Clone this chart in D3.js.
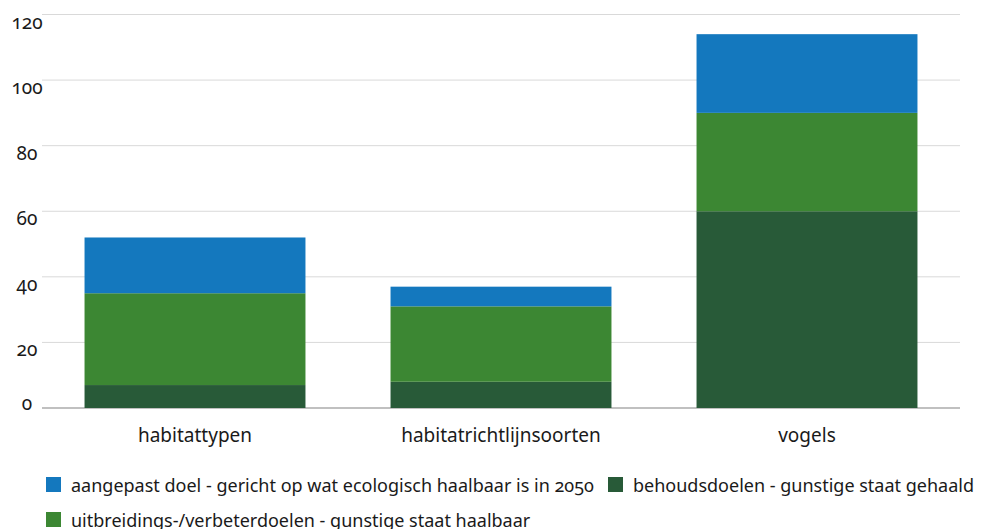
<!DOCTYPE html>
<html>
<head>
<meta charset="utf-8">
<script src="https://cdn.jsdelivr.net/npm/d3@7"></script>
<style>
  body { margin: 0; background: #fff; }
  svg text { font-family: "Noto Sans", sans-serif; font-variant-numeric: oldstyle-nums; fill: #1a1a1a; }
</style>
</head>
<body>
<svg id="chart" width="984" height="529"></svg>
<script>
// data
const categories = ["habitattypen", "habitatrichtlijnsoorten", "vogels"];
const behoud = [7, 8, 60];
const uitbreiding = [28, 23, 30];
const aangepast = [17, 6, 24];
const yTicks = [0, 20, 40, 60, 80, 100, 120];

const seriesNames = [
    "behoudsdoelen - gunstige staat gehaald",
    "uitbreidings-/verbeterdoelen - gunstige staat haalbaar",
    "aangepast doel - gericht op wat ecologisch haalbaar is in 2050"
];
const colors = ["#285a38", "#3c8733", "#1478be"];

const rows = categories.map((c, i) => ({
    cat: c, s0: behoud[i], s1: uitbreiding[i], s2: aangepast[i]
}));

const svg = d3.select("#chart");
const plotLeft = 42, plotRight = 960, plotTop = 14.5, plotBottom = 408;

const x = d3.scaleBand()
    .domain(categories)
    .range([plotLeft, plotRight])
    .paddingInner(0.278)
    .paddingOuter(0.139);

const y = d3.scaleLinear()
    .domain([0, 120])
    .range([plotBottom, plotTop]);

// gridlines
svg.append("g")
    .selectAll("line")
    .data(yTicks)
    .enter().append("line")
    .attr("x1", plotLeft)
    .attr("x2", plotRight)
    .attr("y1", d => y(d))
    .attr("y2", d => y(d))
    .attr("stroke", d => d === 0 ? "#ababab" : "#d9d9d9")
    .attr("stroke-width", d => d === 0 ? 1.5 : 1);

// y labels
svg.append("g")
    .selectAll("text")
    .data(yTicks)
    .enter().append("text")
    .attr("x", 27)
    .attr("y", d => y(d) + (d === 0 ? 2 : 14))
    .attr("text-anchor", "middle")
    .attr("font-size", 19)
    .text(d => d);

// stacked bars
const stack = d3.stack().keys(["s0", "s1", "s2"]);
const layers = stack(rows);

svg.append("g")
    .selectAll("g")
    .data(layers)
    .enter().append("g")
    .attr("fill", (d, i) => colors[i])
    .selectAll("rect")
    .data(d => d)
    .enter().append("rect")
    .attr("x", d => x(d.data.cat))
    .attr("width", x.bandwidth())
    .attr("y", d => y(d[1]))
    .attr("height", d => y(d[0]) - y(d[1]));

// category labels
svg.append("g")
    .selectAll("text")
    .data(categories)
    .enter().append("text")
    .attr("x", d => x(d) + x.bandwidth() / 2)
    .attr("y", 442)
    .attr("text-anchor", "middle")
    .attr("font-size", 19)
    .text(d => d);

// legend
const legendItems = [
    { name: seriesNames[2], color: colors[2], x: 46, y: 477 },
    { name: seriesNames[0], color: colors[0], x: 608, y: 477 },
    { name: seriesNames[1], color: colors[1], x: 46, y: 512 }
];

const legend = svg.append("g")
    .selectAll("g")
    .data(legendItems)
    .enter().append("g")
    .attr("transform", d => `translate(${d.x},${d.y})`);

legend.append("rect")
    .attr("width", 15)
    .attr("height", 15)
    .attr("fill", d => d.color);

legend.append("text")
    .attr("x", 25)
    .attr("y", 14.5)
    .attr("font-size", 18)
    .text(d => d.name);
</script>
</body>
</html>
